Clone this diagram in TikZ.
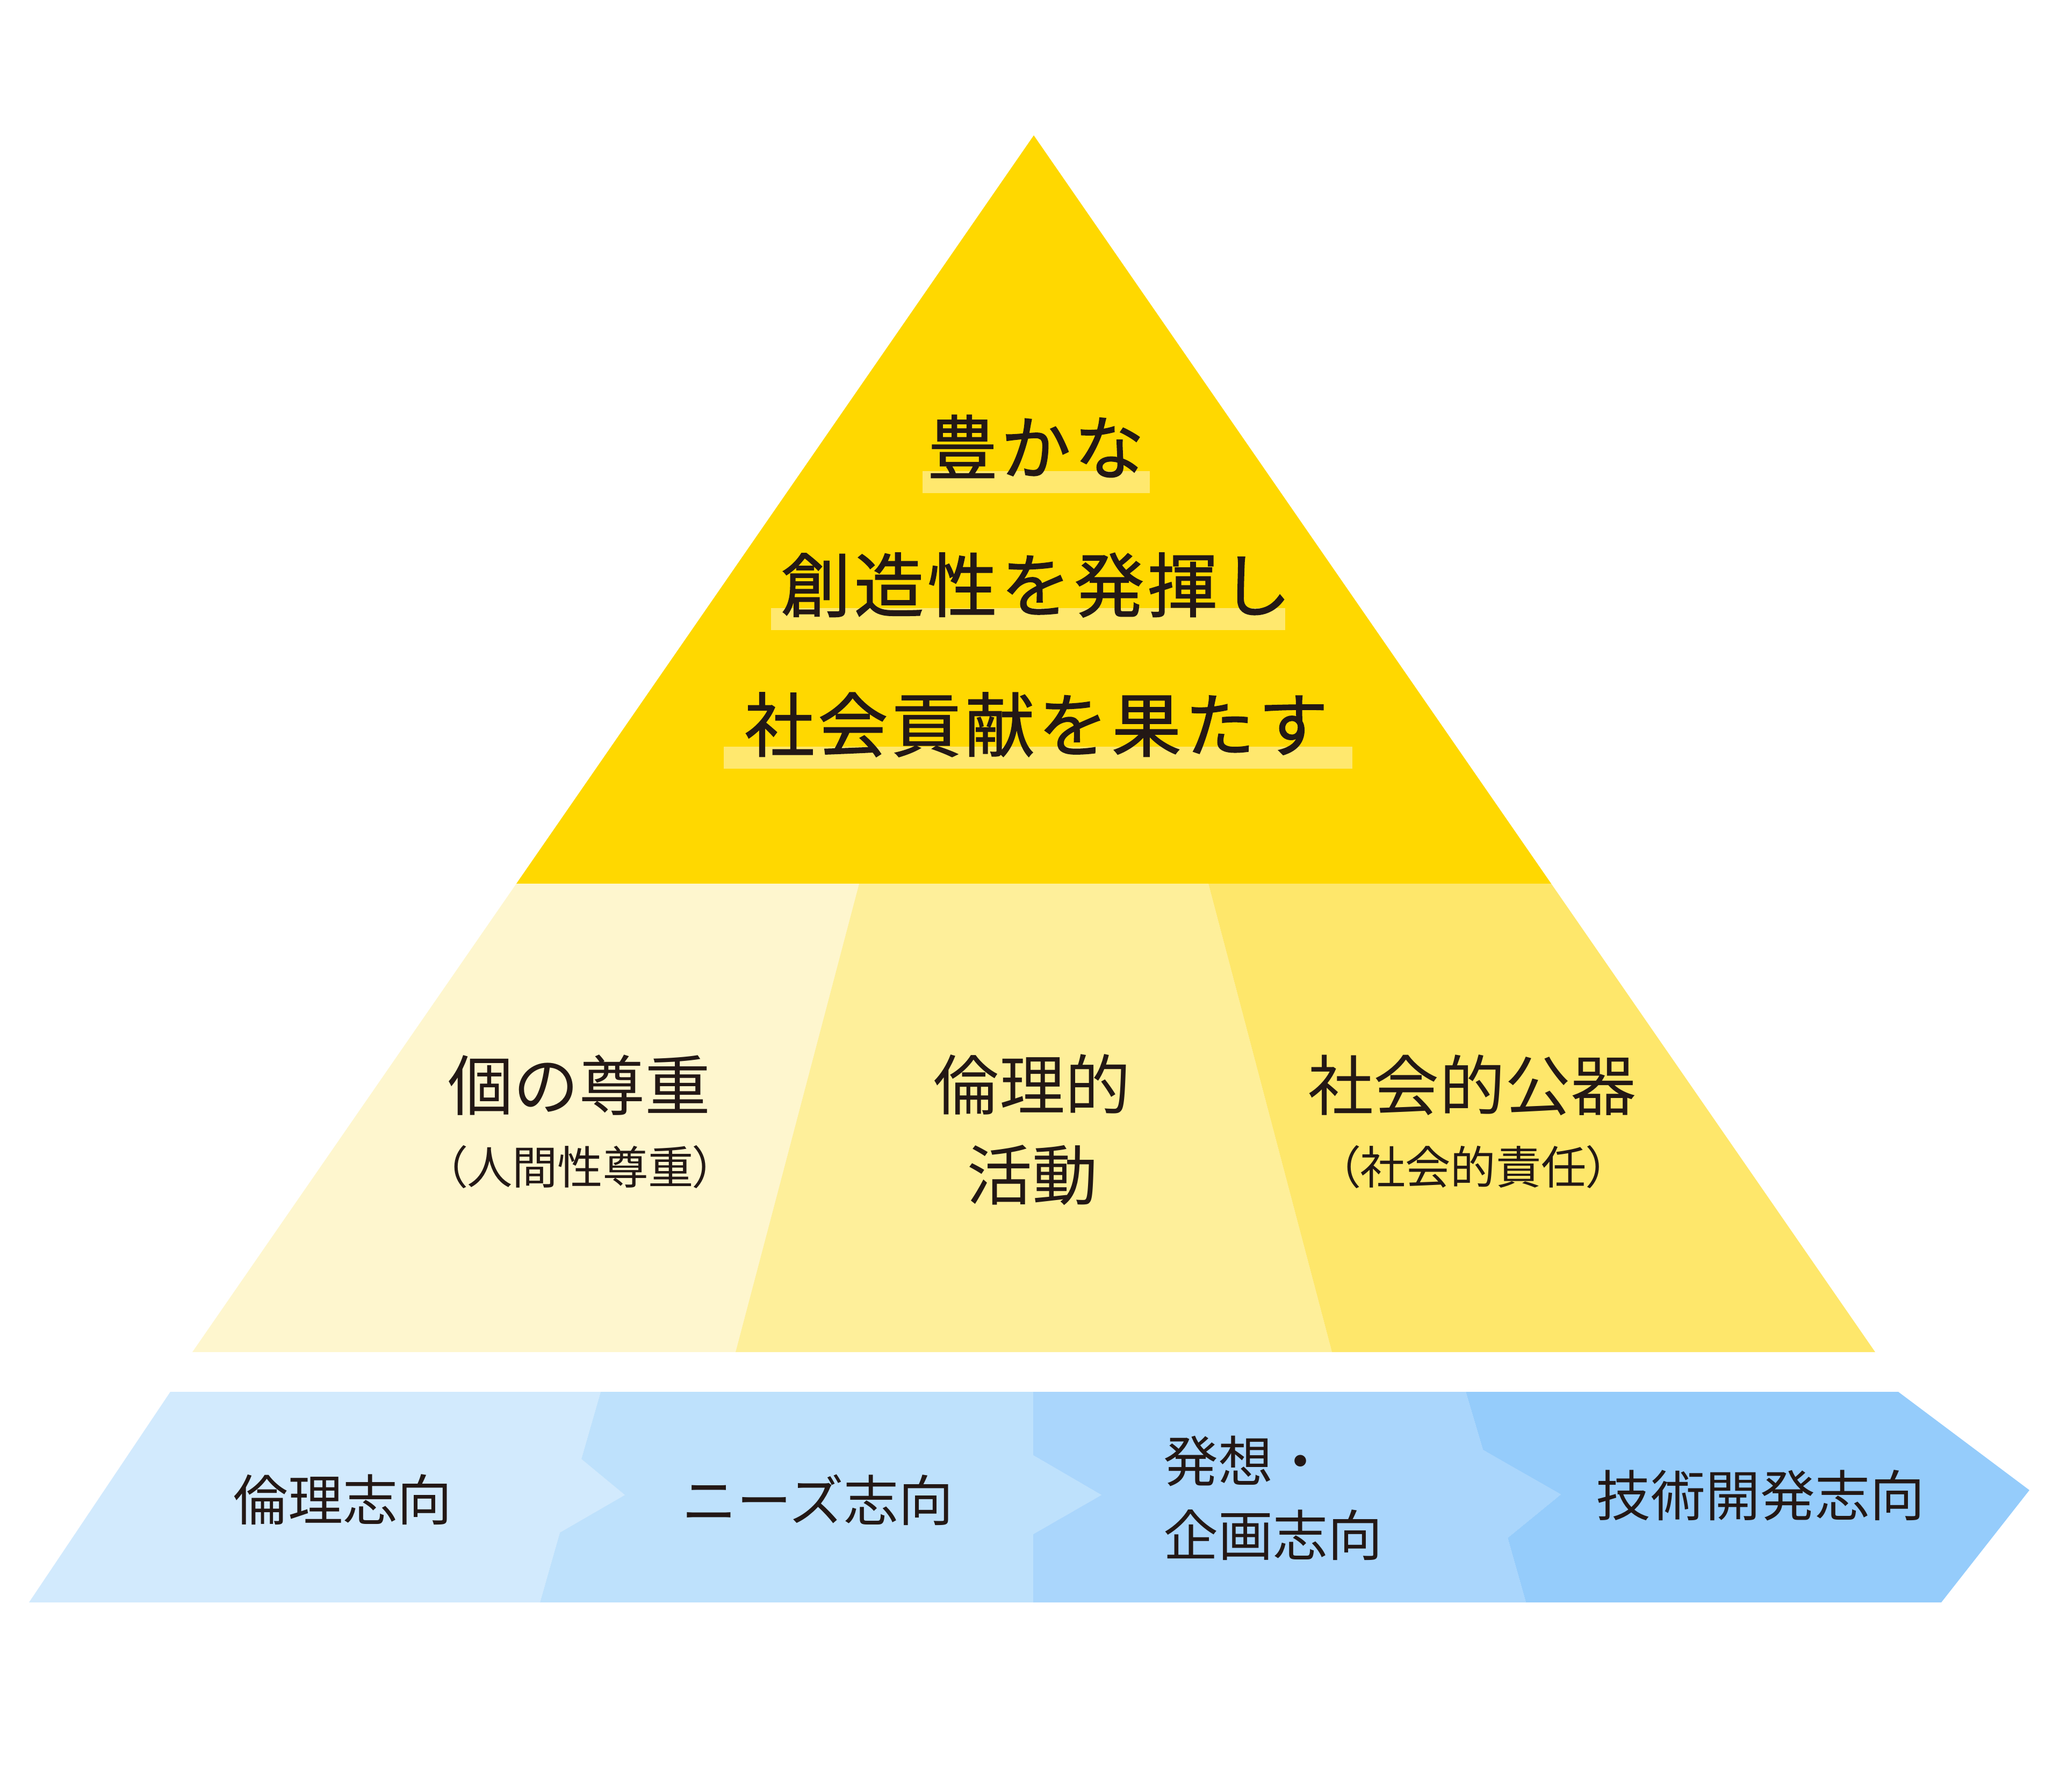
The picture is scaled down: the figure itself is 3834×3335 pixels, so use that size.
\documentclass[tikz,border=0pt]{standalone}
\usepackage{fontspec}
\newfontfamily\jp{Noto Sans CJK JP}
\newfontfamily\jpm[FakeBold=1.2]{Noto Sans CJK JP}
\definecolor{ink}{HTML}{231815}
\definecolor{topy}{HTML}{FFD800}
\definecolor{bary}{HTML}{FFE86E}
\definecolor{lefty}{HTML}{FEF6CE}
\definecolor{midy}{HTML}{FEEF9A}
\definecolor{righty}{HTML}{FEE76B}
\definecolor{blueA}{HTML}{D2EAFD}
\definecolor{blueB}{HTML}{BEE1FC}
\definecolor{blueC}{HTML}{AAD6FC}
\definecolor{blueD}{HTML}{95CCFB}
\tikzset{
  toptext/.style={font=\jpm\fontsize{37}{37}\selectfont\addfontfeature{LetterSpace=5}, text=ink, inner sep=0pt},
  midtext/.style={font=\jp\fontsize{34.7}{47.8}\selectfont, text=ink, inner sep=0pt, align=center},
  subtext/.style={font=\jp\fontsize{24}{24}\selectfont\addfontfeature{RawFeature=+palt}, text=ink, inner sep=0pt},
  bottext/.style={font=\jp\fontsize{29}{39.3}\selectfont, text=ink, inner sep=0pt},
}
\begin{document}
\begin{tikzpicture}[x=0.01cm, y=-0.01cm]
\useasboundingbox (0,0) rectangle (3834,3335);
% pyramid
\fill[topy] (1924,252) -- (2887,1645) -- (961,1645) -- cycle;
\fill[lefty] (961,1645) -- (1599,1645) -- (1369,2517) -- (358,2517) -- cycle;
\fill[midy] (1599,1645) -- (2249,1645) -- (2479,2517) -- (1369,2517) -- cycle;
\fill[righty] (2249,1645) -- (2887,1645) -- (3490,2517) -- (2479,2517) -- cycle;
% highlight bars
\fill[bary] (1717,877) rectangle (2140,918);
\fill[bary] (1435,1132) rectangle (2392,1173);
\fill[bary] (1347,1390) rectangle (2517,1431);
% top texts
\node[toptext] (t1) at (1928,831) {豊かな};
\node[toptext] (t2) at (1928,1089) {創造性を発揮し};
\node[toptext] (t3) at (1929,1349) {社会貢献を果たす};
% middle texts
\node[midtext] (m1) at (1078,2020) {個の尊重};
\node[subtext] (m1s) at (1080,2172) {（人間性尊重）};
\node[midtext] (m2) at (1921,2103) {倫理的\\活動};
\node[midtext] (m3) at (2740,2020) {社会的公器};
\node[subtext] (m3s) at (2742,2172) {（社会的責任）};
% bottom band
\fill[blueA] (54,2983) -- (317,2591) -- (1118,2591) -- (1082,2716) -- (1163,2783) -- (1042,2853) -- (1005,2983) -- cycle;
\fill[blueB] (1005,2983) -- (1042,2853) -- (1163,2783) -- (1082,2716) -- (1118,2591) -- (1923,2591) -- (1923,2709) -- (2050,2783) -- (1923,2856) -- (1923,2983) -- cycle;
\fill[blueC] (1923,2983) -- (1923,2856) -- (2050,2783) -- (1923,2709) -- (1923,2591) -- (2728,2591) -- (2760,2699) -- (2905,2782) -- (2806,2863) -- (2840,2983) -- cycle;
\fill[blueD] (2840,2983) -- (2806,2863) -- (2905,2782) -- (2760,2699) -- (2728,2591) -- (3533,2591) -- (3777,2774) -- (3613,2983) -- cycle;
% bottom texts
\node[bottext] (b1) at (638,2792) {倫理志向};
\node[bottext] (b2) at (1522,2792) {ニーズ志向};
\node[bottext, align=left, anchor=west] (b3) at (2165,2789) {発想・\\企画志向};
\node[bottext] (b4) at (3276,2784) {技術開発志向};
\end{tikzpicture}
\end{document}
